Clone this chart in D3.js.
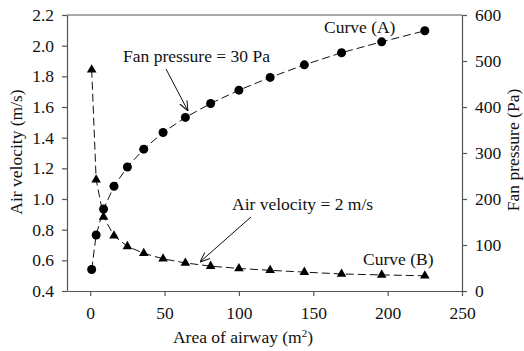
<!DOCTYPE html>
<html>
<head>
<meta charset="utf-8">
<script src="https://cdn.jsdelivr.net/npm/d3@7"></script>
<style>
  body { margin: 0; background: #fff; }
  svg text { font-family: "Liberation Serif", "Times New Roman", serif; fill: #111; }
</style>
</head>
<body>
<svg id="chart" width="524" height="351"></svg>
<script>
"use strict";

// area of airway (m2)
const areas = [1, 4, 9, 16, 25, 36, 49, 64, 81, 100, 121, 144, 169, 196, 225];
// curve A: air velocity at fan pressure = 30 Pa (left axis)
const velocityA = [0.54, 0.765, 0.935, 1.083, 1.209, 1.325, 1.434, 1.532, 1.623, 1.71, 1.793, 1.875, 1.954, 2.025, 2.097];
// curve B: fan pressure at air velocity = 2 m/s (right axis)
const pressureB = [481, 242, 161, 120, 97, 82, 70, 61, 54, 49, 45, 41, 37, 35, 33];

const xTicks = [0, 50, 100, 150, 200, 250];
const vTicks = [0.4, 0.6, 0.8, 1.0, 1.2, 1.4, 1.6, 1.8, 2.0, 2.2];
const pTicks = [0, 100, 200, 300, 400, 500, 600];

const svg = d3.select('#chart');
const m = {l: 67, r: 462, t: 15, b: 291};
const axisColor = '#555';
const fs = 17.5;

let x = d3.scaleLinear().domain([-15.6, 250]).range([m.l, m.r]);
let yL = d3.scaleLinear().domain([0.4, 2.2]).range([m.b, m.t]);
let yR = d3.scaleLinear().domain([0, 600]).range([m.b, m.t]);

// top frame line
svg.append('line')
  .attr('x1', m.l).attr('x2', m.r).attr('y1', m.t).attr('y2', m.t)
  .attr('stroke', axisColor).attr('stroke-width', 1.2);

function styleAxis(g) {
  g.selectAll('.domain, .tick line').attr('stroke', axisColor).attr('stroke-width', 1.2);
  g.selectAll('text').attr('font-size', fs).attr('font-family', '"Liberation Serif", serif').attr('fill', '#111');
}

svg.append('g').attr('transform', `translate(0,${m.b})`)
  .call(d3.axisBottom(x).tickValues(xTicks).tickSize(5).tickSizeOuter(0).tickPadding(11))
  .call(styleAxis);

svg.append('g').attr('transform', `translate(${m.l},0)`)
  .call(d3.axisLeft(yL).tickValues(vTicks).tickFormat(d3.format('.1f')).tickSize(5).tickSizeOuter(0).tickPadding(8))
  .call(styleAxis);

svg.append('g').attr('transform', `translate(${m.r},0)`)
  .call(d3.axisRight(yR).tickValues(pTicks).tickSize(5).tickSizeOuter(0).tickPadding(8))
  .call(styleAxis);

// curve A (circles)
let ptsA = areas.map((a, i) => [x(a), yL(velocityA[i])]);
svg.append('path').attr('d', d3.line()(ptsA))
  .attr('fill', 'none').attr('stroke', '#111').attr('stroke-width', 1)
  .attr('stroke-dasharray', '8,4');
svg.selectAll('.ptA').data(ptsA).join('circle')
  .attr('cx', d => d[0]).attr('cy', d => d[1]).attr('r', 4.5).attr('fill', '#000');

// curve B (triangles)
let ptsB = areas.map((a, i) => [x(a), yR(pressureB[i])]);
svg.append('path').attr('d', d3.line()(ptsB))
  .attr('fill', 'none').attr('stroke', '#111').attr('stroke-width', 1)
  .attr('stroke-dasharray', '8,4');
let tri = d3.symbol().type(d3.symbolTriangle).size(40);
svg.selectAll('.ptB').data(ptsB).join('path')
  .attr('d', tri).attr('transform', d => `translate(${d[0]},${d[1]})`).attr('fill', '#000');

// annotations
svg.append('defs').append('marker')
  .attr('id', 'arr').attr('viewBox', '0 0 10 10').attr('refX', 10).attr('refY', 5)
  .attr('markerWidth', 10).attr('markerHeight', 10).attr('markerUnits', 'userSpaceOnUse')
  .attr('orient', 'auto')
  .append('path').attr('d', 'M0,1 L10,5 L0,9').attr('fill', 'none').attr('stroke', '#111').attr('stroke-width', 1);

function note(txt, tx, ty, ax1, ay1, ax2, ay2) {
  svg.append('text').attr('x', tx).attr('y', ty).attr('font-size', fs).text(txt);
  if (ax1 != null)
    svg.append('line').attr('x1', ax1).attr('y1', ay1).attr('x2', ax2).attr('y2', ay2)
      .attr('stroke', '#111').attr('stroke-width', 1).attr('marker-end', 'url(#arr)');
}
note('Fan pressure = 30 Pa', 123, 62, 166, 69, 188, 111);
note('Air velocity = 2 m/s', 232, 210, 251, 217, 200, 262);
note('Curve (A)', 324, 33);
note('Curve (B)', 363, 265);

// axis titles
svg.append('text').attr('transform', `translate(22,152) rotate(-90)`)
  .attr('text-anchor', 'middle').attr('font-size', fs).text('Air velocity (m/s)');
svg.append('text').attr('transform', `translate(519,150) rotate(-90)`)
  .attr('text-anchor', 'middle').attr('font-size', fs).text('Fan pressure (Pa)');
let xt = svg.append('text').attr('x', 243).attr('y', 343).attr('text-anchor', 'middle').attr('font-size', fs);
xt.append('tspan').text('Area of airway (m');
xt.append('tspan').attr('font-size', 11).attr('dy', -6).text('2');
xt.append('tspan').attr('dy', 6).text(')');
</script>
</body>
</html>
